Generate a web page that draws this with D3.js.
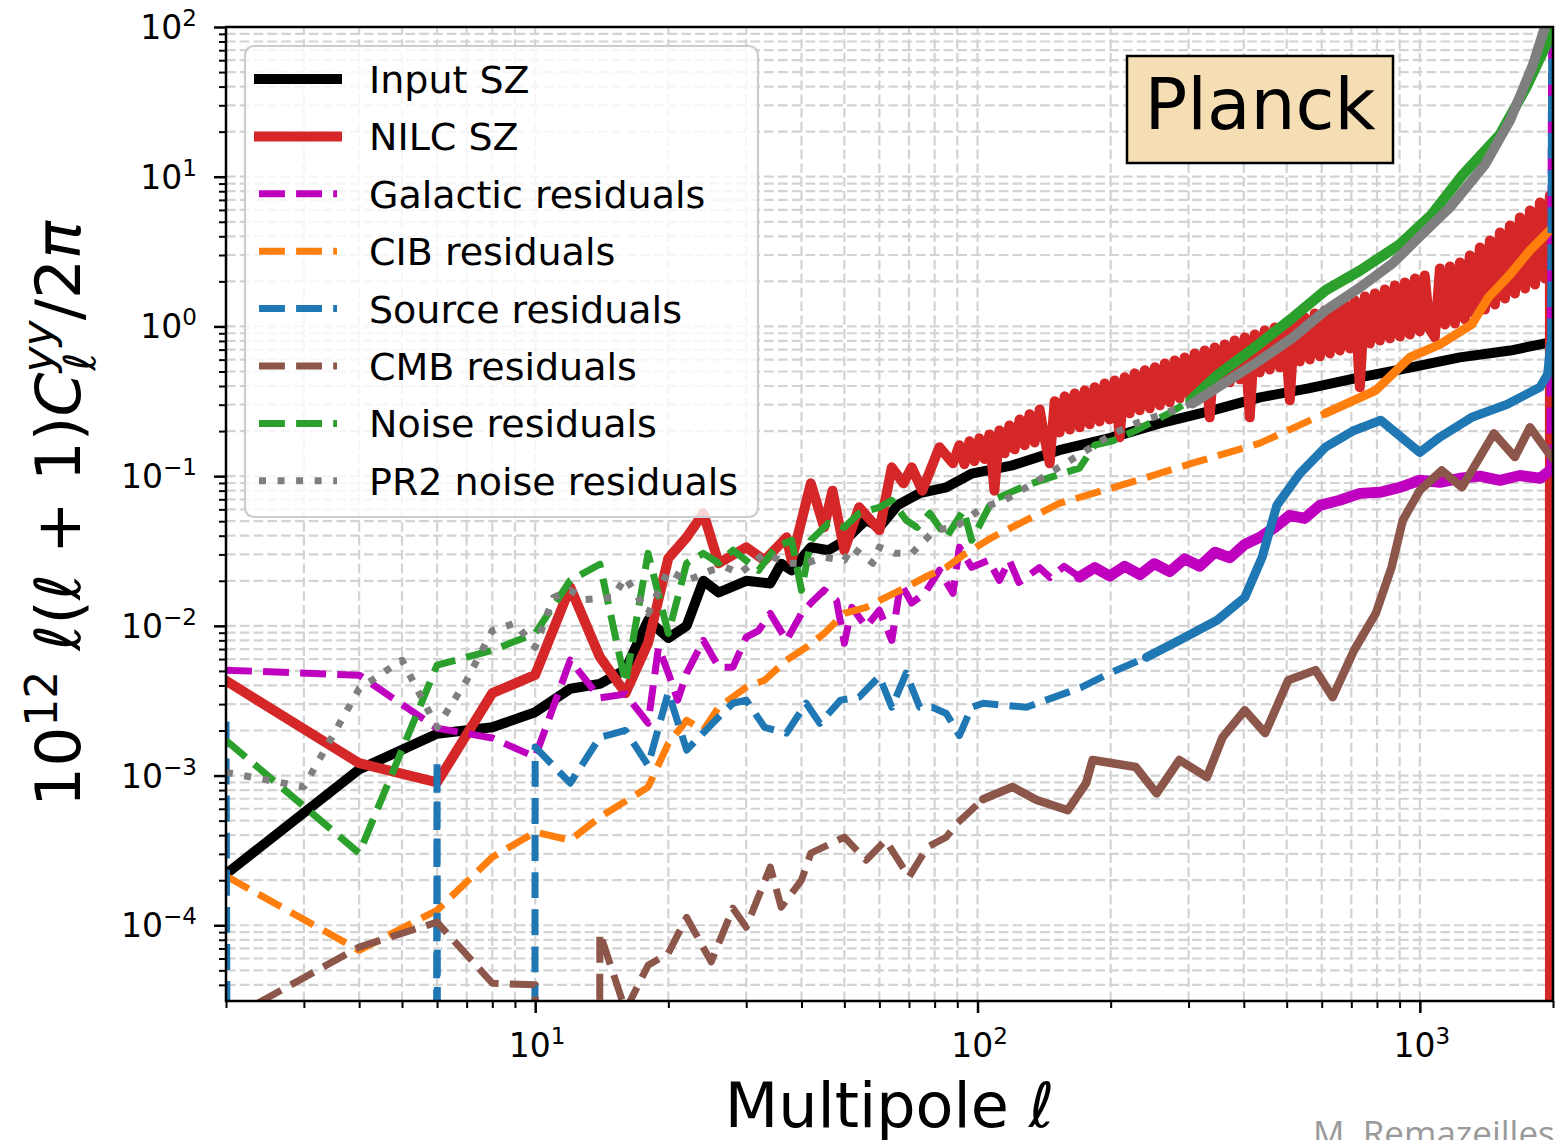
<!DOCTYPE html>
<html>
<head>
<meta charset="utf-8">
<script src="https://cdn.jsdelivr.net/npm/d3@7/dist/d3.min.js"></script>
<style>
  body { margin: 0; background: #ffffff; }
  svg { display: block; }
  text { font-family: "DejaVu Sans", sans-serif; }
</style>
</head>
<body>
<svg id="chart" width="1555" height="1140"></svg>
<script>
// [multipole l, 10^12 l(l+1)C_l^yy/2pi]; 0 = not positive (falls off the log axis)
var inputSZ = [[2, 2.2e-4], [4, 1.1e-3], [6, 1.9e-3], [8, 2.1e-3], [10, 2.65e-3], [12, 3.8e-3], [14, 4.1e-3], [16, 5.1e-3],
  [18, 1.09e-2], [20, 8.3e-3], [22, 1.0e-2], [24, 2.0e-2], [26, 1.67e-2], [30, 2.0e-2], [34, 1.92e-2], [36, 2.6e-2],
  [38, 2.35e-2], [42, 3.35e-2], [46, 3.2e-2], [50, 3.7e-2], [56, 5.1e-2], [60, 4.55e-2], [66, 6.4e-2], [74, 7.7e-2],
  [85, 8.4e-2], [97, 0.104], [120, 0.118], [153, 0.149], [200, 0.18], [258, 0.225], [340, 0.275], [435, 0.336],
  [560, 0.386], [731, 0.457], [950, 0.53], [1231, 0.621], [1600, 0.69], [2000, 0.79]];

var nilcSZ = [[2, 4.3e-3], [4, 1.21e-3], [6, 9.0e-4], [8, 3.55e-3], [10, 4.7e-3], [12, 1.81e-2], [14, 6.2e-3], [16, 3.55e-3],
  [18, 7.7e-3], [20, 2.83e-2], [22, 3.9e-2], [24, 5.65e-2], [26, 2.62e-2], [30, 3.35e-2], [33, 2.74e-2], [37, 3.9e-2],
  [38, 2.74e-2], [42, 8.95e-2], [45, 4.55e-2], [47, 8.0e-2], [50, 3.2e-2], [54, 6.2e-2], [60, 4.35e-2], [64, 0.1145],
  [68, 0.0895], [71, 0.1145], [75, 0.08], [82, 0.156], [88, 0.122],
  [91, 0.161], [93.4, 0.120], [95.9, 0.171], [98.4, 0.126], [101, 0.179], [103.7, 0.130], [106.4, 0.190], [109.2, 0.080],
  [112.1, 0.202], [115.1, 0.142], [118.1, 0.218], [121.3, 0.151], [124.5, 0.239], [127.8, 0.161], [131.1, 0.259],
  [134.6, 0.168], [138.2, 0.279], [141.8, 0.179], [145.6, 0.122], [149.4, 0.316], [153.3, 0.196], [157.4, 0.341],
  [161.6, 0.205], [165.8, 0.357], [170.2, 0.212], [174.7, 0.374], [179.3, 0.222], [184, 0.392], [188.8, 0.232],
  [193.8, 0.416], [198.9, 0.239], [204.2, 0.436], [209.6, 0.182], [215.1, 0.457], [220.8, 0.263], [226.6, 0.486],
  [232.6, 0.275], [238.8, 0.509], [245.1, 0.284], [251.6, 0.533], [258.2, 0.297], [265, 0.566], [271.9, 0.311],
  [279.1, 0.593], [286.4, 0.331], [294, 0.621], [301.8, 0.346], [309.7, 0.660], [317.9, 0.363], [326.3, 0.691],
  [334.9, 0.247], [343.7, 0.724], [352.8, 0.404], [362.1, 0.758], [371.6, 0.423], [381.4, 0.806], [391.6, 0.443],
  [401.9, 0.845], [412.5, 0.247], [423.4, 0.884], [434.5, 0.493], [446, 0.940], [457.7, 0.516], [469.8, 0.985],
  [482.3, 0.533], [495, 1.031], [508.1, 0.321], [521.4, 1.097], [535.2, 0.584], [549.3, 1.148], [563.8, 0.602],
  [578.7, 1.221], [594.1, 0.631], [609.7, 1.279], [625.8, 0.660], [642.3, 1.339], [659.2, 0.691], [676.6, 1.424],
  [694.4, 0.713], [712.8, 1.491], [731.7, 0.392], [751, 1.586], [770.8, 0.770], [791.2, 1.661], [812, 0.806],
  [833.5, 1.766], [855.4, 0.832], [878, 1.878], [901.3, 0.857], [925, 1.967], [949.3, 0.884], [974.4, 2.091],
  [1000, 0.926], [1026, 2.190], [1053, 0.955], [1081, 0.845], [1110, 2.439], [1139, 1.031], [1169, 2.515],
  [1200, 1.047], [1232, 2.674], [1264, 1.114], [1297, 2.978], [1332, 1.202], [1367, 3.368], [1403, 1.299],
  [1440, 3.751], [1478, 1.403], [1517, 4.242], [1557, 1.538], [1598, 4.723], [1640, 1.661], [1683, 5.342],
  [1729, 1.794], [1774, 5.949], [1821, 1.907], [1868, 6.726], [1918, 2.091], [1968, 7.490], [2000, 0]];

var galactic = [[2, 5.06e-3], [4, 4.68e-3], [6, 2.07e-3], [8, 1.78e-3], [10, 1.33e-3], [12, 5.9e-3], [14, 3.3e-3],
  [16, 3.5e-3], [18, 2.24e-3], [19, 7.2e-3], [20, 4.83e-3], [21, 3.19e-3], [22, 4.83e-3], [24, 8.0e-3], [26, 5.3e-3],
  [28, 5.3e-3], [30, 8.4e-3], [32, 9.3e-3], [34, 1.21e-2], [37, 8.0e-3], [40, 1.21e-2], [42, 1.42e-2], [45, 1.73e-2],
  [48, 1.48e-2], [50, 7.65e-3], [52, 1.33e-2], [56, 9.85e-3], [60, 1.27e-2], [64, 8.0e-3], [67, 1.92e-2], [71, 1.42e-2],
  [76, 1.65e-2], [82, 2.35e-2], [88, 1.65e-2], [91, 3.35e-2], [97, 2.46e-2], [106, 2.74e-2], [112, 2.01e-2],
  [118, 2.74e-2], [124, 1.95e-2], [138, 2.45e-2], [146, 2.1e-2], [157, 2.5e-2], [170, 2.12e-2], [184, 2.45e-2],
  [199, 2.15e-2], [215, 2.5e-2], [233, 2.2e-2], [251, 2.6e-2], [272, 2.3e-2], [294, 2.8e-2], [318, 2.5e-2],
  [344, 3.1e-2], [372, 2.85e-2], [402, 3.5e-2], [435, 3.9e-2], [470, 4.55e-2], [508, 5.47e-2], [549, 5.22e-2],
  [594, 6.38e-2], [659, 6.9e-2], [732, 7.67e-2], [812, 7.8e-2], [901, 8.42e-2], [1000, 9.38e-2], [1110, 9.1e-2],
  [1232, 9.67e-2], [1367, 0.1], [1517, 9.38e-2], [1683, 0.101], [1868, 9.67e-2], [1968, 0.109], [2000, 1e4]];

var cib = [[2, 2.13e-4], [4, 6.8e-5], [6, 1.26e-4], [8, 2.85e-4], [10, 4.19e-4], [12, 3.7e-4], [14, 5.27e-4],
  [18, 8.37e-4], [20, 1.64e-3], [22, 2.34e-3], [24, 2.01e-3], [26, 2.86e-3], [30, 3.89e-3], [33, 4.33e-3],
  [37, 5.9e-3], [41, 7.2e-3], [45, 8.9e-3], [50, 1.21e-2], [56, 1.33e-2], [62, 1.55e-2], [69, 1.81e-2],
  [76, 2.11e-2], [85, 2.46e-2], [94, 3.05e-2], [108, 3.9e-2], [153, 6.58e-2], [218, 8.95e-2], [306, 0.122],
  [435, 0.166], [612, 0.263], [795, 0.374], [949, 0.621], [1110, 0.759], [1310, 1.03], [1428, 1.56], [1598, 2.22],
  [1774, 3.22], [2000, 4.6]];

var source = [[2, 2.3e-3], [4, 0], [6, 1.27e-3], [8, 0], [10, 1.55e-3], [12, 8.9e-4], [14, 1.8e-3], [16, 2.0e-3],
  [18, 1.17e-3], [20, 3.6e-3], [22, 1.48e-3], [26, 2.46e-3], [28, 3.04e-3], [30, 3.19e-3], [33, 2.1e-3], [37, 1.92e-3],
  [41, 3.04e-3], [44, 2.23e-3], [49, 3.19e-3], [54, 3.34e-3], [60, 4.6e-3], [64, 2.86e-3], [69, 4.83e-3], [74, 2.86e-3],
  [79, 2.86e-3], [85, 2.6e-3], [91, 1.85e-3], [97, 2.86e-3], [103, 3.04e-3], [129, 2.86e-3], [172, 3.89e-3],
  [199, 4.83e-3], [241, 6.17e-3], [286, 8.0e-3], [348, 1.09e-2], [402, 1.55e-2], [440, 2.87e-2], [475, 6.38e-2],
  [535, 0.104], [612, 0.156], [710, 0.202], [816, 0.236], [1000, 0.144], [1110, 0.182], [1310, 0.247], [1572, 0.301],
  [1868, 0.392], [1945, 0.478], [1975, 0.759], [2000, 1e4]];

var cmb = [[2, 2.3e-5], [4, 7.15e-5], [6, 1.05e-4], [8, 4.1e-5], [10, 4.0e-5], [12, 0], [14, 8.9e-5], [16, 2.7e-5],
  [18, 5.4e-5], [20, 6.5e-5], [22, 1.13e-4], [25, 5.7e-5], [28, 1.3e-4], [30, 9.7e-5], [34, 2.45e-4], [36, 1.32e-4],
  [40, 2.0e-4], [42, 3.03e-4], [50, 3.88e-4], [56, 2.72e-4], [62, 3.7e-4], [70, 2.1e-4], [77, 3.33e-4], [85, 3.88e-4],
  [90, 4.81e-4], [103, 6.96e-4], [120, 8.4e-4], [136, 6.86e-4], [160, 5.87e-4], [176, 8.9e-4], [182, 1.27e-3],
  [228, 1.14e-3], [254, 7.6e-4], [286, 1.27e-3], [330, 9.76e-4], [358, 1.8e-3], [402, 2.73e-3], [447, 1.92e-3],
  [504, 4.33e-3], [581, 5.06e-3], [635, 3.34e-3], [710, 6.87e-3], [795, 1.21e-2], [863, 2.46e-2], [915, 5.07e-2],
  [1000, 8.04e-2], [1121, 0.109], [1245, 8.42e-2], [1470, 0.193], [1640, 0.134], [1774, 0.212], [2000, 0.13]];

var noise = [[2, 1.72e-3], [4, 3.03e-4], [6, 5.46e-3], [8, 6.87e-3], [10, 8.9e-3], [12, 2.01e-2], [14, 2.58e-2],
  [16, 4.14e-3], [18, 3.05e-2], [20, 8.9e-3], [22, 2.62e-2], [24, 3.05e-2], [26, 2.62e-2], [28, 3.2e-2], [32, 2.35e-2],
  [35, 3.35e-2], [38, 3.73e-2], [40, 1.73e-2], [42, 3.73e-2], [46, 4.84e-2], [50, 4.55e-2], [54, 5.65e-2], [60, 6.19e-2],
  [64, 6.89e-2], [69, 5.07e-2], [73, 4.55e-2], [78, 5.65e-2], [85, 3.9e-2], [93, 5.91e-2], [97, 3.73e-2], [108, 6.89e-2],
  [129, 8.68e-2], [146, 9.82e-2], [170, 0.113], [184, 0.161], [203, 0.173], [228, 0.202], [271, 0.263], [303, 0.321],
  [348, 0.471], [435, 0.77], [517, 1.15], [612, 1.74], [732, 2.36], [901, 3.53], [1064, 5.59], [1250, 10.3],
  [1517, 19.1], [1739, 39.4], [2000, 94.6]];

var pr2Noise = [[2, 1.05e-3], [3, 8.4e-4], [4, 3.8e-3], [5, 5.9e-3], [6, 2.1e-3], [7, 4.33e-3], [8, 9.3e-3], [9, 1.04e-2],
  [10, 7.2e-3], [11, 1.55e-2], [12, 1.73e-2], [13, 1.5e-2], [15, 1.55e-2], [16, 2.11e-2], [18, 1.21e-2], [20, 2.35e-2],
  [22, 2.01e-2], [23, 2.11e-2], [25, 2.35e-2], [27, 2.46e-2], [29, 2.24e-2], [31, 2.62e-2], [33, 3.05e-2], [37, 2.62e-2],
  [41, 2.62e-2], [45, 2.87e-2], [50, 2.74e-2], [52, 3.35e-2], [58, 2.62e-2], [60, 3.35e-2], [65, 3.05e-2], [71, 3.05e-2],
  [80, 4.35e-2], [89, 4.55e-2], [103, 6.19e-2], [115, 6.89e-2], [129, 8.42e-2], [145, 0.104], [172, 0.142],
  [203, 0.193], [228, 0.225], [306, 0.306], [435, 0.593], [517, 0.845], [612, 1.28], [732, 1.82], [867, 2.63],
  [979, 3.75], [1169, 6.23], [1405, 12.1], [1598, 23.7], [1802, 56.1], [1918, 100], [2000, 300]];

var seriesNames = ["Input SZ", "NILC SZ", "Galactic residuals", "CIB residuals", "Source residuals",
  "CMB residuals", "Noise residuals", "PR2 noise residuals"];
var seriesData = [inputSZ, nilcSZ, galactic, cib, source, cmb, noise, pr2Noise];
var seriesColors = ["#000000", "#d62728", "#bf00bf", "#ff7f0e", "#1f77b4", "#8c564b", "#2ca02c", "#7f7f7f"];
var seriesStyles = ["solid", "solid", "dashed", "dashed", "dashed", "dashed", "dashed", "dotted"];
// above this multipole the per-l scatter of the original spectra fills the dash gaps
var denseFrom = [null, null, 170, 600, 200, 100, 280, 250];
var denseWidth = [0, 0, 11, 9, 9, 8.5, 10.5, 10];

var plotLeft = 226, plotRight = 1553, plotTop = 27, plotBottom = 1001;

var x = d3.scaleLog().domain([2, 2000]).range([plotLeft, plotRight]);
var y = d3.scaleLog().domain([3.12e-5, 100]).range([plotBottom, plotTop]);

function isMajor(v) {
    var l = Math.log10(v);
    return Math.abs(l - Math.round(l)) < 1e-6;
}
function styleWidth(s) { return s === "solid" ? 10 : 7 }
function styleDash(s) {
    if (s === "dashed") return "25.9,11.2";
    if (s === "dotted") return "7,11.55";
    return null;
}

var svg = d3.select('#chart');

svg.append('defs').append('clipPath').attr('id', 'plotClip').append('rect')
    .attr('x', plotLeft).attr('y', plotTop)
    .attr('width', plotRight - plotLeft).attr('height', plotBottom - plotTop);

// grid, major and minor, same dashed grey
var xTicks = x.ticks();
var yTicks = y.ticks();
var grid = svg.append('g').attr('stroke', '#d3d3d3').attr('stroke-width', 2.2).attr('stroke-dasharray', '9.6,4.2');
grid.selectAll('line.gx').data(xTicks).enter().append('line').attr('class', 'gx')
    .attr('x1', function (d) { return x(d) }).attr('x2', function (d) { return x(d) })
    .attr('y1', plotBottom).attr('y2', plotTop);
grid.selectAll('line.gy').data(yTicks).enter().append('line').attr('class', 'gy')
    .attr('x1', plotLeft).attr('x2', plotRight)
    .attr('y1', function (d) { return y(d) }).attr('y2', function (d) { return y(d) });

// curves
var line = d3.line()
    .x(function (d) { return x(d[0]) })
    .y(function (d) { return y(d[1] > 0 ? d[1] : 1e-300) });

var curves = svg.append('g').attr('clip-path', 'url(#plotClip)');

function drawStyled(data, i) {
    var s = seriesStyles[i];
    curves.append('path')
        .datum(data)
        .attr('d', line)
        .attr('fill', 'none')
        .attr('stroke', seriesColors[i])
        .attr('stroke-width', styleWidth(s))
        .attr('stroke-dasharray', styleDash(s))
        .attr('stroke-linejoin', 'round')
        .attr('stroke-linecap', s === "solid" ? 'square' : 'butt');
}

seriesData.forEach(function (data, i) {
    var lim = denseFrom[i];
    if (!lim) { drawStyled(data, i); return; }
    var k = data.findIndex(function (d) { return d[0] >= lim });
    var n = data.length;
    // a last point shooting off the top keeps its dashes, as in the reference
    var spike = data[n - 1][1] >= 1e3;
    drawStyled(data.slice(0, k + 1), i);
    curves.append('path')
        .datum(data.slice(k, spike ? n - 1 : n))
        .attr('d', line)
        .attr('fill', 'none')
        .attr('stroke', seriesColors[i])
        .attr('stroke-width', denseWidth[i])
        .attr('stroke-linejoin', 'round')
        .attr('stroke-linecap', 'round');
    if (spike) drawStyled(data.slice(n - 2), i);
});

// frame
svg.append('rect').attr('x', plotLeft).attr('y', plotTop)
    .attr('width', plotRight - plotLeft).attr('height', plotBottom - plotTop)
    .attr('fill', 'none').attr('stroke', '#000').attr('stroke-width', 2.5);

// ticks
var xMajor = xTicks.filter(isMajor), xMinor = xTicks.filter(function (d) { return !isMajor(d) });
var yMajor = yTicks.filter(isMajor), yMinor = yTicks.filter(function (d) { return !isMajor(d) });

function tickAxis(axis, tx, ty, w) {
    var g = svg.append('g').attr('transform', 'translate(' + tx + ',' + ty + ')').call(axis);
    g.select('.domain').remove();
    g.selectAll('line').attr('stroke', '#000').attr('stroke-width', w);
    return g;
}
tickAxis(d3.axisBottom(x).tickValues(xMajor).tickSize(12).tickFormat(''), 0, plotBottom, 2.5);
tickAxis(d3.axisBottom(x).tickValues(xMinor).tickSize(7).tickFormat(''), 0, plotBottom, 2);
tickAxis(d3.axisLeft(y).tickValues(yMajor).tickSize(12).tickFormat(''), plotLeft, 0, 2.5);
tickAxis(d3.axisLeft(y).tickValues(yMinor).tickSize(7).tickFormat(''), plotLeft, 0, 2);

function powerLabel(v, px, py, anchor) {
    var e = Math.round(Math.log10(v));
    var t = svg.append('text').attr('x', px).attr('y', py)
        .attr('text-anchor', anchor).attr('font-size', 33).attr('fill', '#000');
    t.append('tspan').text('10');
    t.append('tspan').attr('font-size', 23).attr('dy', -13).text(e < 0 ? '\u2212' + (-e) : String(e));
}
yMajor.forEach(function (v) { powerLabel(v, 197, y(v) + 12, 'end') });
xMajor.forEach(function (v) { powerLabel(v, x(v) + 2, 1057, 'middle') });

// axis titles
var xt = svg.append('text').attr('x', (plotLeft + plotRight) / 2).attr('y', 1127)
    .attr('text-anchor', 'middle').attr('font-size', 62);
xt.append('tspan').text('Multipole ');
xt.append('tspan').attr('font-style', 'italic').text('\u2113');

var yt = svg.append('text').attr('transform', 'translate(80,514) rotate(-90)')
    .attr('text-anchor', 'middle').attr('font-size', 63);
yt.append('tspan').text('10');
yt.append('tspan').attr('font-size', 44).attr('dy', -23).text('12');
yt.append('tspan').attr('dy', 23).text(' ');
yt.append('tspan').attr('font-style', 'italic').text('\u2113');
yt.append('tspan').text('(');
yt.append('tspan').attr('font-style', 'italic').text('\u2113');
yt.append('tspan').text(' + 1)');
yt.append('tspan').attr('font-style', 'italic').text('C');
yt.append('tspan').attr('font-style', 'italic').attr('font-size', 44).attr('dy', -27).text('yy');
yt.append('tspan').attr('font-style', 'italic').attr('font-size', 44).attr('dx', -50).attr('dy', 42).text('\u2113');
yt.append('tspan').attr('dx', 32).attr('dy', -15).text('/2');
yt.append('tspan').attr('font-style', 'italic').text('\u03c0');

// legend
var legend = svg.append('g');
legend.append('rect').attr('x', 245).attr('y', 46).attr('width', 513).attr('height', 471).attr('rx', 9)
    .attr('fill', '#ffffff').attr('fill-opacity', 0.8)
    .attr('stroke', '#cccccc').attr('stroke-width', 2.2);
seriesNames.forEach(function (name, i) {
    var cy = 79 + i * 57.4;
    var s = seriesStyles[i];
    legend.append('line')
        .attr('x1', 259).attr('x2', 337).attr('y1', cy).attr('y2', cy)
        .attr('stroke', seriesColors[i])
        .attr('stroke-width', styleWidth(s))
        .attr('stroke-dasharray', styleDash(s))
        .attr('stroke-linecap', s === "solid" ? 'square' : 'butt');
    legend.append('text').attr('x', 369).attr('y', cy + 14)
        .attr('font-size', 38).attr('fill', '#000').text(name);
});

// Planck tag
svg.append('rect').attr('x', 1127).attr('y', 56).attr('width', 266).attr('height', 107)
    .attr('fill', '#f5deb3').attr('stroke', '#000').attr('stroke-width', 2.5);
svg.append('text').attr('x', 1260).attr('y', 129).attr('text-anchor', 'middle')
    .attr('font-size', 71).attr('fill', '#000').text('Planck');

// credit, cut by the bottom and right edges
svg.append('text').attr('x', 1313).attr('y', 1146)
    .style('font-family', '"Open Sans", sans-serif')
    .attr('font-size', 35).attr('fill', '#9a9a9a').text('M. Remazeilles');
</script>
</body>
</html>
